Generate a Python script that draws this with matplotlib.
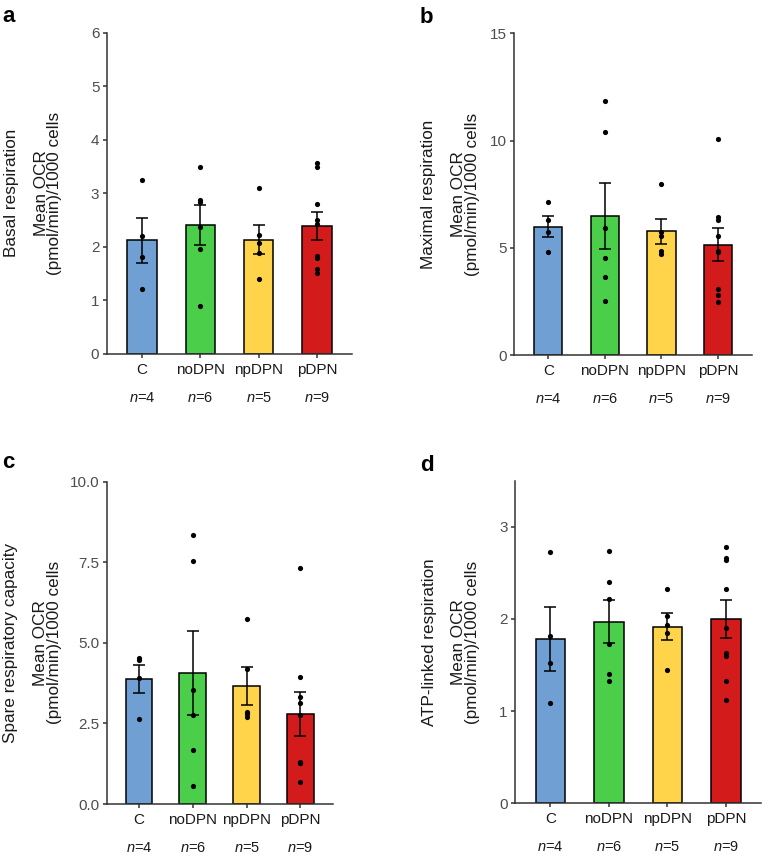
import matplotlib
matplotlib.use('Agg')
import matplotlib.pyplot as plt
import numpy as np

plt.rcParams['font.family'] = ['Liberation Sans', 'DejaVu Sans']
plt.rcParams['mathtext.fontset'] = 'custom'
plt.rcParams['mathtext.it'] = 'Liberation Sans:italic'
plt.rcParams['mathtext.rm'] = 'Liberation Sans'

## Dados
grupos = ['C', 'noDPN', 'npDPN', 'pDPN']
n_amostras = [4, 6, 5, 9]
cores = ['#6F9FD3', '#4BCF4A', '#FFD34A', '#D31B1C']

basal = [[3.25, 2.20, 1.82, 1.21],
         [3.50, 2.87, 2.84, 2.38, 1.97, 0.90],
         [3.10, 2.23, 2.08, 1.88, 1.40],
         [3.56, 3.50, 2.80, 2.50, 2.43, 1.83, 1.80, 1.59, 1.51]]

maxima = [[7.14, 6.30, 5.73, 4.81],
          [11.83, 10.40, 5.92, 4.55, 3.65, 2.52],
          [8.00, 5.76, 5.54, 4.88, 4.72],
          [10.09, 6.43, 6.32, 5.54, 4.86, 4.80, 3.11, 2.80, 2.50]]

reserva = [[4.52, 4.47, 3.92, 2.63],
           [8.34, 7.54, 3.55, 2.76, 1.69, 0.55],
           [5.75, 4.18, 2.86, 2.79, 2.70],
           [7.32, 3.95, 3.33, 3.12, 2.76, 1.30, 1.28, 1.27, 0.69]]

atp = [[2.73, 1.81, 1.52, 1.09],
       [2.74, 2.40, 2.22, 1.73, 1.40, 1.33],
       [2.33, 2.03, 1.93, 1.85, 1.45],
       [2.78, 2.66, 2.64, 2.33, 1.90, 1.63, 1.60, 1.33, 1.12]]

W, H = 762, 860
fig = plt.figure(figsize=(W / 100, H / 100), dpi=100)

## (letra, dados, rótulo, caixa em px [esq, dir, topo, base], ymax, ticks, formato, desloc. rótulos, letra)
paineis = [
    ('a', basal, 'Basal respiration', (107, 352, 32.7, 354), 6, [0, 1, 2, 3, 4, 5, 6], '%d', 59, 95, (2, 22)),
    ('b', maxima, 'Maximal respiration', (514.3, 752, 33.3, 355.3), 15, [0, 5, 10, 15], '%d', 49, 86, (420, 23)),
    ('c', reserva, 'Spare respiratory capacity', (106.7, 332.7, 481.7, 804), 10, [0, 2.5, 5, 7.5, 10], '%.1f', 59, 96, (2, 468)),
    ('d', atp, 'ATP-linked respiration', (515.3, 761, 480.7, 803.3), 3.5, [0, 1, 2, 3], '%d', 50, 86, (420, 471)),
]

for letra, dados, rotulo, caixa, ymax, ticks, fmt, d_in, d_out, pos_letra in paineis:
    esq, dir_, topo, base = caixa
    ax = fig.add_axes([esq / W, 1 - base / H, (dir_ - esq) / W, (base - topo) / H])
    x = np.arange(len(grupos))
    medias = [np.mean(v) for v in dados]
    erros = [np.std(v, ddof=1) / np.sqrt(len(v)) for v in dados]

    ax.bar(x, medias, width=0.5, color=cores, edgecolor='black', linewidth=1.1, zorder=2)
    ax.errorbar(x, medias, yerr=erros, fmt='none', ecolor='black', elinewidth=1.1,
                capsize=4.3, capthick=1.1, zorder=3)
    for i, v in enumerate(dados):
        ax.scatter([i] * len(v), v, s=14, color='black', zorder=4, linewidths=0)

    ax.set_xlim(-0.6, 3.6)
    ax.set_ylim(0, ymax)
    ax.set_yticks(ticks)
    ax.set_yticklabels([fmt % t for t in ticks])
    ax.set_xticks(x)
    ax.set_xticklabels(grupos)
    for s in ['top', 'right']:
        ax.spines[s].set_visible(False)
    for s in ['left', 'bottom']:
        ax.spines[s].set_linewidth(1.1)
        ax.spines[s].set_color('#333333')
    ax.tick_params(axis='both', length=3, width=1.1, color='#333333')
    ax.tick_params(axis='y', labelsize=11, labelcolor='#4D4D4D', pad=2.5)
    ax.tick_params(axis='x', labelsize=11, labelcolor='#1A1A1A', pad=3.5)

    ## rótulos n=
    for i, n in enumerate(n_amostras):
        ax.annotate(r'$\mathit{n}$=%d' % n, xy=(i, 0), xycoords=('data', 'axes fraction'),
                    xytext=(0, -31.5), textcoords='offset points',
                    ha='center', va='center', fontsize=10.5, color='#1A1A1A')

    ## rótulos do eixo y (dois níveis)
    yc = 1 - (topo + base) / 2 / H
    fig.text((esq - d_in) / W, yc, 'Mean OCR\n(pmol/min)/1000 cells', rotation=90,
             ha='center', va='center', fontsize=12.3, linespacing=0.9, color='#1A1A1A')
    fig.text((esq - d_out) / W, yc, rotulo, rotation=90,
             ha='center', va='center', fontsize=12.3, color='#1A1A1A')

    fig.text(pos_letra[0] / W, 1 - pos_letra[1] / H, letra, fontsize=16,
             fontweight='bold', ha='left', va='baseline')

fig.savefig('out.png', dpi=100)
